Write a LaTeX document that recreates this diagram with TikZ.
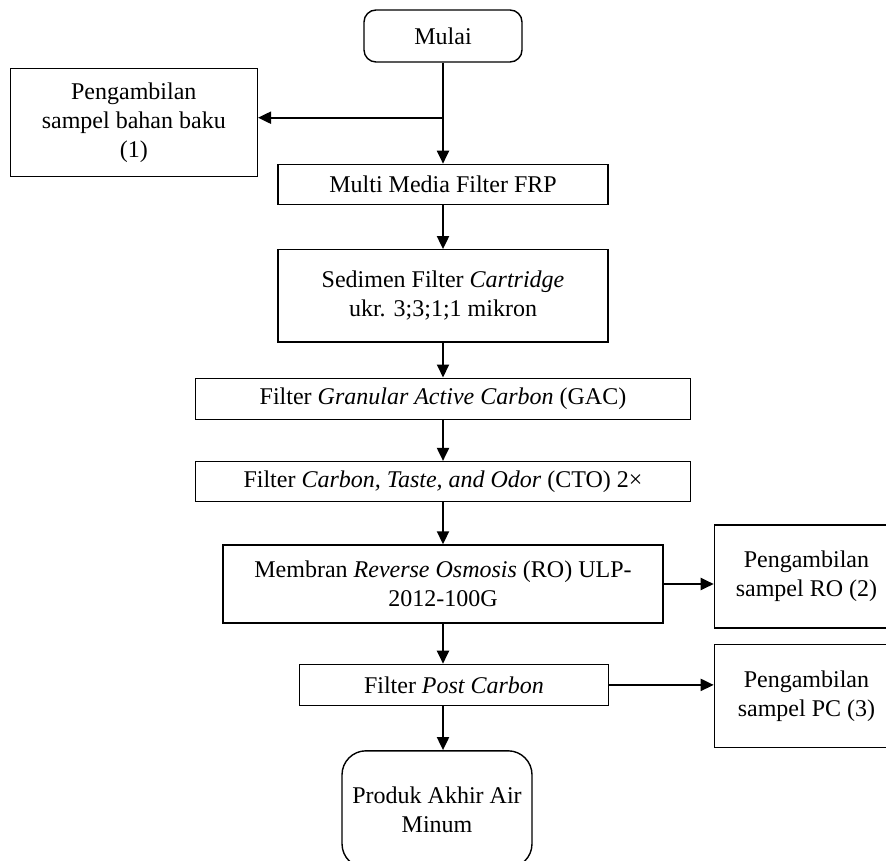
\documentclass[tikz,border=0pt]{standalone}
\usepackage{fontspec}
\setmainfont{Liberation Serif}
\usetikzlibrary{arrows.meta, positioning}

\begin{document}
\begin{tikzpicture}[
        box/.style={rectangle, draw, line width=0.7pt, align=center,
                    inner sep=2pt, font=\fontsize{12}{14.5}\selectfont},
        rbox/.style={box, rounded corners=6pt},
        sbox/.style={box, minimum width=92pt, minimum height=51.5pt},
        arr/.style={-{Triangle[length=6.5pt,width=6pt]}, line width=1pt},
        node distance=20pt]
      \useasboundingbox (0,0) rectangle (443pt,-430pt);
      \node[rbox, minimum width=79pt, minimum height=26pt] (mulai) at (221.5pt,-18pt) {Mulai};
      \coordinate[below=27.5pt of mulai.south] (split);
      \node[box, minimum width=123.5pt, minimum height=54pt, left=92.5pt of split, yshift=-2.5pt] (samp1)
            {Pengambilan\\ sampel bahan baku\\ (1)};
      \node[box, minimum width=165pt, minimum height=20pt, below=50.5pt of mulai] (mmf) {Multi Media Filter FRP};
      \node[box, minimum width=165pt, minimum height=46pt, below=22pt of mmf] (sed)
            {Sedimen Filter \textit{Cartridge}\\ ukr. 3;3;1;1 mikron};
      \node[box, minimum width=247.5pt, minimum height=20.5pt, below=17.5pt of sed] (gac)
            {Filter \textit{Granular Active Carbon} (GAC)};
      \node[box, minimum width=247.5pt, minimum height=20pt, below=20.5pt of gac] (cto)
            {Filter \textit{Carbon, Taste, and Odor} (CTO) 2×};
      \node[box, minimum width=220pt, minimum height=39pt, below=21pt of cto] (memb)
            {Membran \textit{Reverse Osmosis} (RO) ULP-\\ 2012-100G};
      \node[box, minimum width=154.5pt, minimum height=20.5pt, below=20pt of memb, xshift=5.5pt] (post)
            {Filter \textit{Post Carbon}};
      \node[box, rounded corners=12pt, minimum width=95pt, minimum height=58.5pt, below=22pt of post, xshift=-8.5pt] (prod)
            {Produk Akhir Air\\ Minum};
      \node[sbox, right=25pt of memb, yshift=3.75pt] (ro) {Pengambilan\\ sampel RO (2)};
      \node[sbox, below=7.5pt of ro] (pc) {Pengambilan\\ sampel PC (3)};

      \draw[arr] (mulai) -- (mmf);
      \draw[arr] (split) -- (split -| samp1.east);
      \draw[arr] (mmf) -- (sed);
      \draw[arr] (sed) -- (gac);
      \draw[arr] (gac) -- (cto);
      \draw[arr] (cto) -- (memb);
      \draw[arr] (memb.south) -- (memb.south |- post.north);
      \draw[arr] (post.south -| mmf) -- (prod.north -| mmf);
      \draw[arr] (memb.east) -- (memb.east -| ro.west);
      \draw[arr] (post.east) -- (post.east -| pc.west);
    \end{tikzpicture}
\end{document}
